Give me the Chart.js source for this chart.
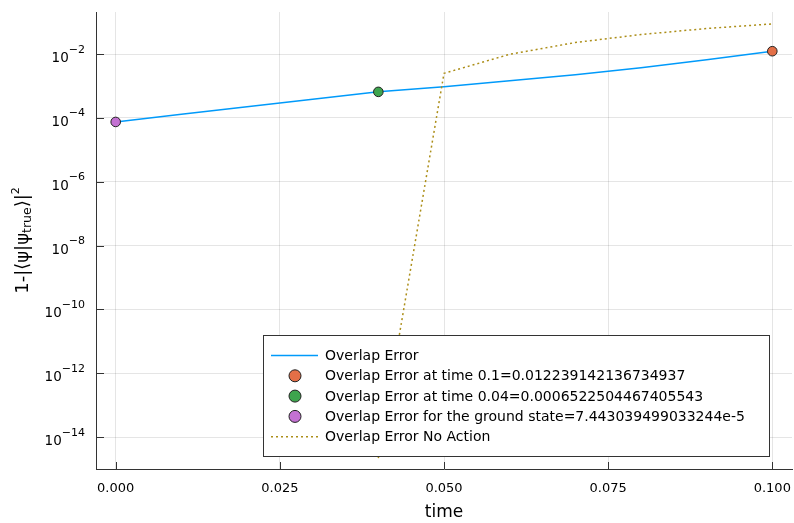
<!DOCTYPE html>
<html>
<head>
<meta charset="utf-8">
<script src="https://cdn.jsdelivr.net/npm/chart.js@4.4.0/dist/chart.umd.min.js"></script>
<style>
  html, body { margin: 0; padding: 0; background: #fff; }
  #wrap { width: 794px; height: 523px; }
</style>
</head>
<body>
<div id="wrap"><canvas id="chart"></canvas></div>
<script>
// ---- data ----
const times = [0, 0.01, 0.02, 0.03, 0.04, 0.05, 0.06, 0.07, 0.08, 0.09, 0.1];
const overlapError = [7.443039499033244e-5, 1.29e-4, 2.24e-4, 3.8e-4, 6.522504467405543e-4,
  9.5e-4, 1.45e-3, 2.25e-3, 3.7e-3, 6.6e-3, 0.012239142136734937];
const noActionError = [null, null, null, null, 2.2e-15, 2.48e-3, 9.8e-3, 2.29e-2, 4.07e-2, 6.3e-2, 8.75e-2];

const markerTimes = [0.1, 0.04, 0];
const markerValues = [0.012239142136734937, 0.0006522504467405543, 7.443039499033244e-5];

const legendLabels = [
  'Overlap Error',
  'Overlap Error at time 0.1=0.012239142136734937',
  'Overlap Error at time 0.04=0.0006522504467405543',
  'Overlap Error for the ground state=7.443039499033244e-5',
  'Overlap Error No Action'
];

const xTicks = [0, 0.025, 0.05, 0.075, 0.1];
const xTickLabels = ['0.000', '0.025', '0.050', '0.075', '0.100'];
const yTicks = [1e-14, 1e-12, 1e-10, 1e-8, 1e-6, 1e-4, 1e-2];

// Plots.jl default palette
const COLORS = {
  blue: '#009AFA',
  orange: '#E36F47',
  green: '#3EA44E',
  purple: '#C371D2',
  gold: '#AC8E18'
};
const markerColors = [COLORS.orange, COLORS.green, COLORS.purple];

const FONT = "'DejaVu Sans', sans-serif";

function toXY(xs, ys) {
  return xs.map((t, i) => ({ x: t, y: ys[i] }));
}

// draws tick labels, titles and the boxed legend the way Plots/GR does
const plotsLook = {
  id: 'plotsLook',
  afterDraw(chart) {
    const ctx = chart.ctx;
    const xs = chart.scales.x;
    const ys = chart.scales.y;
    const area = chart.chartArea;
    ctx.save();
    ctx.fillStyle = '#000';
    ctx.strokeStyle = '#333';
    ctx.lineWidth = 1;

    // inward tick marks
    ctx.beginPath();
    xTicks.forEach(v => {
      const px = Math.round(xs.getPixelForValue(v)) + 0.5;
      ctx.moveTo(px, area.bottom);
      ctx.lineTo(px, area.bottom - 7);
    });
    yTicks.forEach(v => {
      const py = Math.round(ys.getPixelForValue(v)) + 0.5;
      ctx.moveTo(area.left, py);
      ctx.lineTo(area.left + 8, py);
    });
    ctx.stroke();

    // x tick labels
    ctx.font = '13px ' + FONT;
    ctx.textAlign = 'center';
    ctx.textBaseline = 'alphabetic';
    xTicks.forEach((v, i) => {
      ctx.fillText(xTickLabels[i], xs.getPixelForValue(v), area.bottom + 23);
    });

    // y tick labels 10^-n
    yTicks.forEach(v => {
      const py = ys.getPixelForValue(v);
      const sup = '\u2212' + Math.abs(Math.round(Math.log10(v)));
      ctx.font = '11px ' + FONT;
      const supW = ctx.measureText(sup).width;
      const right = area.left - 11;
      ctx.textAlign = 'left';
      ctx.fillText(sup, right - supW, py - 1.5);
      ctx.font = '13.5px ' + FONT;
      ctx.textAlign = 'right';
      ctx.fillText('10', right - supW, py + 8);
    });

    // x axis title
    ctx.font = '17px ' + FONT;
    ctx.textAlign = 'center';
    ctx.fillText('time', (area.left + area.right) / 2, 517);

    // y axis title, rotated
    const parts = [
      { t: '1-|\u27E8\u03C8|\u03C8', f: 18, dy: 0 },
      { t: 'true', f: 12.5, dy: 3 },
      { t: '\u27E9|', f: 18, dy: 0 },
      { t: '2', f: 11, dy: -9 }
    ];
    let total = 0;
    parts.forEach(p => {
      ctx.font = p.f + 'px ' + FONT;
      p.w = ctx.measureText(p.t).width;
      total += p.w;
    });
    ctx.save();
    ctx.translate(28, (area.top + area.bottom) / 2);
    ctx.rotate(-Math.PI / 2);
    ctx.textAlign = 'left';
    let cx = -total / 2;
    parts.forEach(p => {
      ctx.font = p.f + 'px ' + FONT;
      ctx.fillText(p.t, cx, p.dy);
      cx += p.w;
    });
    ctx.restore();

    // legend box
    const lx = 263.5, ly = 335.5, lw = 506, lh = 121;
    ctx.fillStyle = '#fff';
    ctx.fillRect(lx, ly, lw, lh);
    ctx.strokeStyle = '#333';
    ctx.strokeRect(lx, ly, lw, lh);
    ctx.font = '14px ' + FONT;
    ctx.textAlign = 'left';
    ctx.textBaseline = 'middle';
    legendLabels.forEach((label, i) => {
      const ry = 355.5 + i * 20.3;
      if (i === 0 || i === 4) {
        ctx.beginPath();
        ctx.strokeStyle = i === 0 ? COLORS.blue : COLORS.gold;
        ctx.lineWidth = 1.5;
        ctx.setLineDash(i === 0 ? [] : [2, 3]);
        ctx.moveTo(271, ry);
        ctx.lineTo(318, ry);
        ctx.stroke();
        ctx.setLineDash([]);
      } else {
        ctx.beginPath();
        ctx.arc(295, ry, 6, 0, Math.PI * 2);
        ctx.fillStyle = markerColors[i - 1];
        ctx.fill();
        ctx.strokeStyle = '#222';
        ctx.lineWidth = 1;
        ctx.stroke();
      }
      ctx.fillStyle = '#000';
      ctx.fillText(label, 325, ry + 1);
    });
    ctx.restore();
  }
};

new Chart(document.getElementById('chart'), {
  type: 'scatter',
  data: {
    datasets: [
      {
        label: legendLabels[0],
        data: toXY(times, overlapError),
        showLine: true,
        borderColor: COLORS.blue,
        borderWidth: 1.5,
        pointRadius: 0,
        order: 5
      },
      ...markerTimes.map((t, i) => ({
        label: legendLabels[i + 1],
        data: [{ x: t, y: markerValues[i] }],
        backgroundColor: markerColors[i],
        borderColor: '#222',
        borderWidth: 1,
        pointRadius: 4.8,
        order: 4 - i
      })),
      {
        label: legendLabels[4],
        data: toXY(times, noActionError),
        showLine: true,
        spanGaps: false,
        borderColor: COLORS.gold,
        borderWidth: 1.5,
        borderDash: [2, 3],
        pointRadius: 0,
        order: 1
      }
    ]
  },
  options: {
    responsive: true,
    maintainAspectRatio: false,
    animation: false,
    layout: { autoPadding: false, padding: { left: 0, top: 12, right: 2, bottom: 0 } },
    plugins: {
      legend: { display: false },
      tooltip: { enabled: false }
    },
    scales: {
      x: {
        type: 'linear',
        min: -0.003,
        max: 0.103,
        afterBuildTicks: s => { s.ticks = xTicks.map(v => ({ value: v })); },
        afterFit: s => { s.height = 54; },
        ticks: { display: false },
        grid: { color: 'rgba(0,0,0,0.1)', drawTicks: false },
        border: { display: true, color: '#333', width: 1 }
      },
      y: {
        type: 'logarithmic',
        min: Math.pow(10, -15.0),
        max: Math.pow(10, -0.684),
        afterBuildTicks: s => { s.ticks = yTicks.map(v => ({ value: v })); },
        afterFit: s => { s.width = 96; },
        ticks: { display: false },
        grid: { color: 'rgba(0,0,0,0.1)', drawTicks: false },
        border: { display: true, color: '#333', width: 1 }
      }
    }
  },
  plugins: [plotsLook]
});
</script>
</body>
</html>
